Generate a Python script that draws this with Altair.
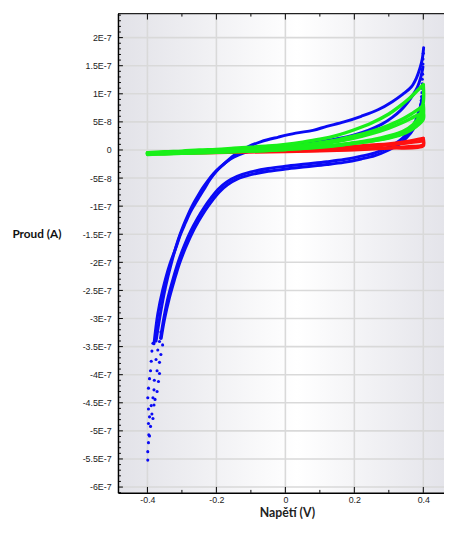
import altair as alt
import pandas as pd

# ---------------- data (current values in units of 1e-7 A) ----------------
BLUE_FWD1_V = [-0.381, -0.370, -0.356, -0.336, -0.318, -0.304, -0.290, -0.276, -0.262, -0.248,
               -0.233, -0.219, -0.200, -0.180, -0.160, -0.142, -0.110, -0.070, -0.020, 0.030,
               0.080, 0.120, 0.170, 0.220, 0.270, 0.310, 0.340, 0.365, 0.380, 0.390, 0.397, 0.401]
BLUE_FWD1_I = [-3.45, -2.92, -2.50, -2.05, -1.75, -1.50, -1.30, -1.11, -0.96, -0.82,
               -0.67, -0.53, -0.38, -0.26, -0.15, -0.06, 0.05, 0.15, 0.23, 0.30,
               0.35, 0.42, 0.50, 0.60, 0.72, 0.86, 0.99, 1.12, 1.28, 1.45, 1.62, 1.82]

BLUE_FWD2_V = [-0.375, -0.362, -0.348, -0.330, -0.312, -0.296, -0.282, -0.268, -0.254, -0.240,
               -0.225, -0.208, -0.190, -0.170, -0.150, -0.120, -0.080, -0.030, 0.030, 0.090,
               0.150, 0.200, 0.240, 0.280, 0.310, 0.335, 0.355, 0.370, 0.383, 0.393, 0.399]
BLUE_FWD2_I = [-3.40, -2.90, -2.45, -2.00, -1.62, -1.35, -1.15, -0.97, -0.82, -0.68,
               -0.55, -0.42, -0.31, -0.21, -0.13, -0.05, 0.01, 0.05, 0.09, 0.14,
               0.20, 0.27, 0.35, 0.46, 0.58, 0.71, 0.85, 0.98, 1.12, 1.30, 1.48]

BLUE_REV1_V = [0.395, 0.388, 0.380, 0.370, 0.350, 0.330, 0.300, 0.260, 0.220, 0.170,
               0.120, 0.060, 0.000, -0.050, -0.100, -0.140, -0.170, -0.195, -0.215, -0.235,
               -0.255, -0.275, -0.293, -0.310, -0.325, -0.340, -0.352, -0.362]
BLUE_REV1_I = [0.85, 0.70, 0.56, 0.42, 0.27, 0.16, 0.05, -0.05, -0.11, -0.17,
               -0.21, -0.25, -0.29, -0.33, -0.39, -0.47, -0.57, -0.70, -0.85, -1.02,
               -1.22, -1.45, -1.70, -1.98, -2.28, -2.62, -2.98, -3.35]

BLUE_REV2_V = [0.396, 0.391, 0.384, 0.372, 0.352, 0.330, 0.300, 0.260, 0.220, 0.170,
               0.120, 0.060, 0.000, -0.050, -0.100, -0.140, -0.168, -0.192, -0.212, -0.232,
               -0.252, -0.272, -0.290, -0.307, -0.322, -0.337, -0.350, -0.360]
BLUE_REV2_I = [0.92, 0.72, 0.55, 0.38, 0.22, 0.10, 0.00, -0.10, -0.16, -0.22,
               -0.26, -0.30, -0.34, -0.38, -0.44, -0.52, -0.62, -0.75, -0.90, -1.07,
               -1.27, -1.50, -1.75, -2.02, -2.32, -2.65, -3.00, -3.35]

# sparse blue points: vertical drop at +0.4 V and the deep tail near -0.4 V
BLUE_DOT_V = [0.400, 0.399, 0.399, 0.398, 0.398, 0.397, 0.397, 0.396, 0.396, 0.395, 0.394, 0.393,
              -0.375, -0.361, -0.384, -0.365, -0.356, -0.387, -0.370, -0.361, -0.389, -0.375,
              -0.365, -0.391, -0.372, -0.365, -0.394, -0.380, -0.368, -0.397, -0.381, -0.372,
              -0.399, -0.384, -0.378, -0.389, -0.381, -0.397, -0.387, -0.394, -0.384, -0.397,
              -0.391, -0.396, -0.394, -0.397, -0.399, -0.399]
BLUE_DOT_I = [1.72, 1.62, 1.53, 1.44, 1.35, 1.26, 1.18, 1.10, 1.02, 0.95, 0.88, 0.81,
              -3.27, -3.24, -3.44, -3.41, -3.47, -3.58, -3.56, -3.64, -3.76, -3.73,
              -3.78, -3.93, -3.93, -3.98, -4.07, -4.10, -4.12, -4.24, -4.27, -4.30,
              -4.41, -4.41, -4.44, -4.55, -4.54, -4.61, -4.70, -4.75, -4.78, -4.87,
              -4.92, -5.07, -5.09, -5.21, -5.37, -5.52]

GREEN_FWD1_V = [-0.40, -0.35, -0.30, -0.25, -0.20, -0.15, -0.10, -0.05, 0.00, 0.05,
                0.10, 0.15, 0.20, 0.25, 0.30, 0.33, 0.36, 0.38, 0.40]
GREEN_FWD1_I = [-0.05, -0.03, -0.02, 0.00, 0.01, 0.03, 0.05, 0.07, 0.10, 0.14,
                0.19, 0.26, 0.36, 0.48, 0.64, 0.77, 0.92, 1.04, 1.16]
GREEN_REV1_V = [0.40, 0.40, 0.39, 0.37, 0.34, 0.30, 0.25, 0.20, 0.15, 0.10,
                0.05, 0.00, -0.05, -0.10, -0.15, -0.20, -0.25, -0.30, -0.35, -0.40]
GREEN_REV1_I = [1.16, 0.85, 0.62, 0.45, 0.33, 0.25, 0.18, 0.13, 0.09, 0.06,
                0.03, 0.01, -0.01, -0.02, -0.03, -0.04, -0.05, -0.06, -0.07, -0.08]
GREEN_FWD2_V = [-0.40, -0.30, -0.20, -0.10, 0.00, 0.05, 0.10, 0.15, 0.20, 0.25,
                0.30, 0.34, 0.37, 0.39, 0.40]
GREEN_FWD2_I = [-0.06, -0.03, -0.01, 0.02, 0.06, 0.09, 0.13, 0.18, 0.25, 0.33,
                0.44, 0.55, 0.66, 0.74, 0.80]
GREEN_REV2_V = [0.40, 0.40, 0.39, 0.37, 0.34, 0.30, 0.25, 0.20, 0.15, 0.10,
                0.00, -0.10, -0.20, -0.30, -0.40]
GREEN_REV2_I = [0.80, 0.65, 0.52, 0.40, 0.30, 0.22, 0.16, 0.12, 0.08, 0.05,
                0.01, -0.02, -0.04, -0.06, -0.07]
GREEN_FWD3_V = [-0.40, -0.30, -0.20, -0.10, 0.00, 0.10, 0.15, 0.20, 0.25, 0.30,
                0.34, 0.37, 0.39, 0.40]
GREEN_FWD3_I = [-0.06, -0.03, -0.01, 0.01, 0.04, 0.10, 0.15, 0.21, 0.29, 0.39,
                0.49, 0.58, 0.64, 0.68]
GREEN_REV3_V = [0.40, 0.40, 0.38, 0.35, 0.30, 0.20, 0.10, 0.00, -0.10, -0.20, -0.30, -0.40]
GREEN_REV3_I = [0.68, 0.55, 0.42, 0.31, 0.21, 0.12, 0.06, 0.03, 0.00, -0.02, -0.04, -0.05]

RED_FWD1_V = [-0.40, -0.30, -0.20, -0.10, 0.00, 0.10, 0.20, 0.30, 0.35, 0.40]
RED_FWD1_I = [-0.05, -0.03, -0.01, 0.00, 0.02, 0.04, 0.07, 0.11, 0.15, 0.21]
RED_REV1_V = [0.40, 0.40, 0.35, 0.30, 0.20, 0.10, 0.00, -0.10, -0.20, -0.30, -0.40]
RED_REV1_I = [0.21, 0.10, 0.06, 0.04, 0.01, -0.01, -0.02, -0.03, -0.04, -0.05, -0.06]
RED_FWD2_V = [-0.40, -0.20, 0.00, 0.10, 0.20, 0.30, 0.35, 0.40]
RED_FWD2_I = [-0.06, -0.02, 0.01, 0.03, 0.05, 0.09, 0.12, 0.16]
RED_REV2_V = [0.40, 0.40, 0.30, 0.20, 0.10, 0.00, -0.20, -0.40]
RED_REV2_I = [0.16, 0.07, 0.03, 0.00, -0.02, -0.03, -0.05, -0.07]

# axis ticks
X_MAJOR = [-0.4, -0.2, 0.0, 0.2, 0.4]
X_MINOR = [-0.3, -0.1, 0.1, 0.3]
Y_MAJOR = [-6e-7, -5.5e-7, -5e-7, -4.5e-7, -4e-7, -3.5e-7, -3e-7, -2.5e-7, -2e-7,
           -1.5e-7, -1e-7, -5e-8, 0.0, 5e-8, 1e-7, 1.5e-7, 2e-7]
Y_MINOR = [k * 1e-8 for k in range(-61, 25) if k % 5 != 0]

UNIT = 1e-7

curves = [
    ("blue", "b_f1", BLUE_FWD1_V, BLUE_FWD1_I),
    ("blue", "b_f2", BLUE_FWD2_V, BLUE_FWD2_I),
    ("blue", "b_r1", BLUE_REV1_V, BLUE_REV1_I),
    ("blue", "b_r2", BLUE_REV2_V, BLUE_REV2_I),
    ("red", "r_f1", RED_FWD1_V, RED_FWD1_I),
    ("red", "r_r1", RED_REV1_V, RED_REV1_I),
    ("red", "r_f2", RED_FWD2_V, RED_FWD2_I),
    ("red", "r_r2", RED_REV2_V, RED_REV2_I),
    ("green", "g_f1", GREEN_FWD1_V, GREEN_FWD1_I),
    ("green", "g_r1", GREEN_REV1_V, GREEN_REV1_I),
    ("green", "g_f2", GREEN_FWD2_V, GREEN_FWD2_I),
    ("green", "g_r2", GREEN_REV2_V, GREEN_REV2_I),
    ("green", "g_f3", GREEN_FWD3_V, GREEN_FWD3_I),
    ("green", "g_r3", GREEN_REV3_V, GREEN_REV3_I),
]
rows = []
for col, name, vs, cs in curves:
    for k, (v, c) in enumerate(zip(vs, cs)):
        rows.append({"col": col, "curve": name, "k": k, "V": v, "I": c * UNIT})
df = pd.DataFrame(rows)
dots = pd.DataFrame({"V": BLUE_DOT_V, "I": [c * UNIT for c in BLUE_DOT_I]})

# ---------------- layout ----------------
W, H = 332, 488
XS = alt.Scale(domain=[-0.4854, 0.46], nice=False, zero=False)
YS = alt.Scale(domain=[-6.103e-7, 2.427e-7], nice=False, zero=False)

LABEL_FONT = "Liberation Sans"
TITLE_FONT = "Lato"

x_axis = alt.Axis(
    values=X_MAJOR, grid=False, ticks=False, domain=True, domainColor="#000000",
    domainWidth=1.5, labelExpr="datum.value == 0 ? '0' : replace(format(datum.value, '.1f'), '\u2212', '-')",
    labelFont=LABEL_FONT, labelFontSize=9, labelColor="#222222", labelPadding=3,
    labelOverlap=False, labelFlush=False,
    title="Napětí (V)", titleFont=TITLE_FONT, titleFontWeight="bold", titleFontSize=12.5,
    titleColor="#222222", titleX=172, titleY=27, titleBaseline="bottom", titleAlign="center",
    zindex=1,
)
y_axis = alt.Axis(
    values=Y_MAJOR, grid=False, ticks=False, domain=True, domainColor="#000000",
    domainWidth=1.5,
    labelExpr="datum.value == 0 ? '0' : replace(replace(format(datum.value, '~e'), '\u2212', '-'), 'e', 'E')",
    labelFont=LABEL_FONT, labelFontSize=9, labelColor="#222222", labelPadding=7,
    labelOverlap=False,
    title="Proud (A)", titleFont=TITLE_FONT, titleFontWeight="bold", titleFontSize=12,
    titleColor="#111111", titleAngle=0, titleAlign="left", titleBaseline="middle",
    titleX=-108, titleY=224, zindex=1,
)

X = alt.X("V:Q", scale=XS, axis=x_axis)
Y = alt.Y("I:Q", scale=YS, axis=y_axis)

gradient = alt.Gradient(
    gradient="linear", x1=0, x2=1, y1=0, y2=0,
    stops=[alt.GradientStop(offset=0, color="#e2e2e8"),
           alt.GradientStop(offset=0.55, color="#ffffff"),
           alt.GradientStop(offset=1, color="#e4e4ea")],
)
bg = alt.Chart(pd.DataFrame({"z": [0]})).mark_rect(fill=gradient).encode(
    x=alt.value(0), x2=alt.value(W), y=alt.value(0), y2=alt.value(H)
)

xmaj = pd.DataFrame({"V": X_MAJOR})
xmin = pd.DataFrame({"V": X_MINOR})
ymaj = pd.DataFrame({"I": Y_MAJOR})
ymin = pd.DataFrame({"I": Y_MINOR})

grid_x = alt.Chart(xmaj).mark_rule(color="#d9d9d9", strokeWidth=1.6).encode(x=X)
grid_y = alt.Chart(ymaj).mark_rule(color="#d9d9d9", strokeWidth=1.6).encode(y=Y)

blue_lines = alt.Chart(df[df.col == "blue"]).mark_line(
    color="#0a0af5", strokeWidth=3, interpolate="catmull-rom", strokeCap="round", clip=True
).encode(x=X, y=Y, detail="curve:N", order="k:Q")
blue_dots = alt.Chart(dots).mark_circle(color="#0a0af5", size=10, opacity=1, clip=True).encode(x=X, y=Y)
red_lines = alt.Chart(df[df.col == "red"]).mark_line(
    color="#ff1010", strokeWidth=3, interpolate="catmull-rom", strokeCap="round", clip=True
).encode(x=X, y=Y, detail="curve:N", order="k:Q")
green_lines = alt.Chart(df[df.col == "green"]).mark_line(
    color="#19f019", strokeWidth=3.5, interpolate="catmull-rom", strokeCap="round", clip=True
).encode(x=X, y=Y, detail="curve:N", order="k:Q")

tk = dict(color="#000000", strokeWidth=1)
ticks = [
    alt.Chart(xmaj).mark_rule(**tk).encode(x=X, y=alt.value(H - 6), y2=alt.value(H)),
    alt.Chart(xmin).mark_rule(**tk).encode(x=X, y=alt.value(H - 3), y2=alt.value(H)),
    alt.Chart(xmaj).mark_rule(**tk).encode(x=X, y=alt.value(0), y2=alt.value(6)),
    alt.Chart(xmin).mark_rule(**tk).encode(x=X, y=alt.value(0), y2=alt.value(3)),
    alt.Chart(ymaj).mark_rule(**tk).encode(y=Y, x=alt.value(0), x2=alt.value(5)),
    alt.Chart(ymin).mark_rule(**tk).encode(y=Y, x=alt.value(0), x2=alt.value(3)),
]
top_line = alt.Chart(pd.DataFrame({"z": [0]})).mark_rule(color="#222222", strokeWidth=1.5).encode(
    x=alt.value(0), x2=alt.value(W), y=alt.value(0)
)

chart = alt.layer(
    bg, grid_x, grid_y, blue_lines, blue_dots, red_lines, green_lines, *ticks, top_line
).properties(
    width=W, height=H,
    padding={"left": 112, "top": 1, "right": 0, "bottom": 27},
    autosize=alt.AutoSizeParams(type="none"),
).configure_view(stroke=None)

chart.save("out.html", embed_options={"renderer": "svg", "actions": False})
